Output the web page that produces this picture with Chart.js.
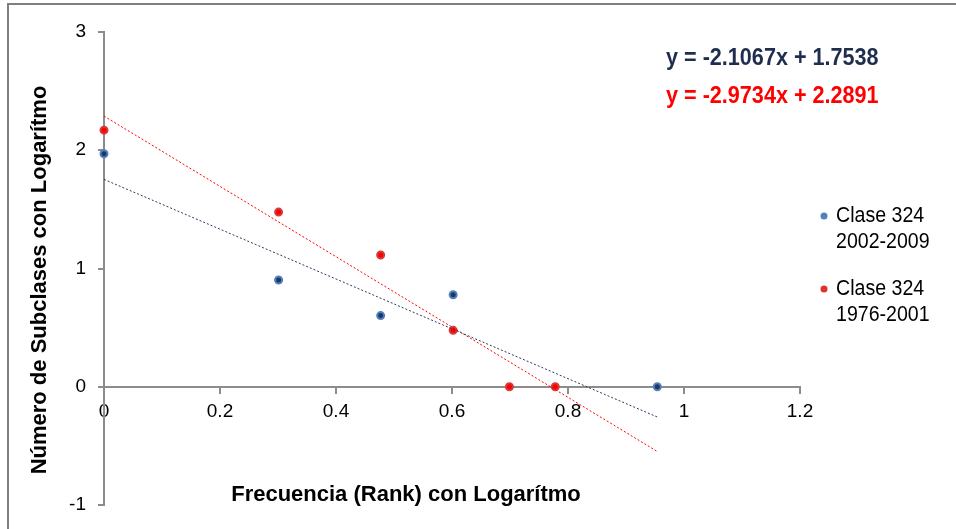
<!DOCTYPE html>
<html>
<head>
<meta charset="utf-8">
<script src="https://cdn.jsdelivr.net/npm/chart.js@4.4.1/dist/chart.umd.min.js"></script>
<style>
  html, body { margin: 0; padding: 0; background: #fff; }
  #wrap { position: relative; width: 956px; height: 529px; }
</style>
</head>
<body>
<div id="wrap"><canvas id="chart" width="956" height="529"></canvas></div>
<script>
// log-log rank data, Clase 324
var seriesNames = [["Clase 324", "2002-2009"], ["Clase 324", "1976-2001"]];

var recentX = [0, 0.301, 0.477, 0.602, 0.954];
var recentY = [1.97, 0.903, 0.602, 0.778, 0];

var olderX = [0, 0.301, 0.477, 0.602, 0.699, 0.778];
var olderY = [2.17, 1.477, 1.114, 0.477, 0, 0];

// linear trendlines (slope, intercept) as printed on the chart
var trendSlopes = [-2.1067, -2.9734];
var trendIntercepts = [1.7538, 2.2891];
var trendRange = [0, 0.954];

var xTicks = [0, 0.2, 0.4, 0.6, 0.8, 1, 1.2];
var yTicks = [-1, 0, 1, 2, 3];

var FONT = "'Liberation Sans', Arial, sans-serif";
var AXIS_GREY = "#8c8c8c";

function pts(xs, ys) {
  return xs.map(function (x, i) { return { x: x, y: ys[i] }; });
}

function trend(i) {
  return trendRange.map(function (x) {
    return { x: x, y: trendSlopes[i] * x + trendIntercepts[i] };
  });
}

// no narrow font installed, so squeeze text horizontally
function narrowText(ctx, text, x, y, sx) {
  ctx.save();
  ctx.translate(x, y);
  ctx.scale(sx, 1);
  ctx.fillText(text, 0, 0);
  ctx.restore();
}

var overlay = {
  id: "overlay",
  afterDraw: function (chart) {
    var ctx = chart.ctx;
    ctx.save();

    // outer frame (top + left only, as in the source)
    ctx.fillStyle = "#7f7f7f";
    ctx.fillRect(7, 3, 949, 2);
    ctx.fillRect(7, 3, 2, 526);

    // equations
    ctx.font = "bold 24px " + FONT;
    ctx.textBaseline = "middle";
    ctx.textAlign = "left";
    ctx.fillStyle = "#1f2d4e";
    narrowText(ctx, "y = -2.1067x + 1.7538", 666, 58, 0.9);
    ctx.fillStyle = "#ff0000";
    narrowText(ctx, "y = -2.9734x + 2.2891", 666, 96, 0.9);

    // axis titles
    ctx.fillStyle = "#000";
    ctx.font = "bold 22px " + FONT;
    ctx.textAlign = "center";
    ctx.fillText("Frecuencia (Rank) con Logarítmo", 406, 495);
    ctx.save();
    ctx.translate(40, 280);
    ctx.rotate(-Math.PI / 2);
    ctx.fillText("Número de Subclases con Logarítmo", 0, 0);
    ctx.restore();

    // legend
    var legendDots = ["#4f81bd", "#e03030"];
    var legendY = [216, 289];
    ctx.font = "22px " + FONT;
    ctx.textAlign = "left";
    for (var i = 0; i < 2; i++) {
      ctx.beginPath();
      ctx.arc(824, legendY[i], 3.5, 0, Math.PI * 2);
      ctx.fillStyle = legendDots[i];
      ctx.fill();
      ctx.fillStyle = "#000";
      narrowText(ctx, seriesNames[i][0], 836, legendY[i], 0.89);
      narrowText(ctx, seriesNames[i][1], 836, legendY[i] + 26, 0.89);
    }
    ctx.restore();
  }
};

new Chart(document.getElementById("chart"), {
  type: "scatter",
  data: {
    datasets: [
      {
        label: "trend recent",
        type: "line",
        data: trend(0),
        borderColor: "#2a3a5c",
        borderWidth: 1,
        borderDash: [2, 2],
        pointRadius: 0,
        fill: false,
        clip: false
      },
      {
        label: "trend older",
        type: "line",
        data: trend(1),
        borderColor: "#ff0000",
        borderWidth: 1,
        borderDash: [2, 2],
        pointRadius: 0,
        fill: false,
        clip: false
      },
      {
        label: seriesNames[0].join(" "),
        data: pts(recentX, recentY),
        pointRadius: 3.5,
        pointBackgroundColor: "#1f3864",
        pointBorderColor: "#4f81bd",
        pointBorderWidth: 2,
        clip: false
      },
      {
        label: seriesNames[1].join(" "),
        data: pts(olderX, olderY),
        pointRadius: 3.5,
        pointBackgroundColor: "#ff0000",
        pointBorderColor: "#d63a3a",
        pointBorderWidth: 2,
        clip: false
      }
    ]
  },
  options: {
    responsive: false,
    animation: false,
    layout: { padding: { left: 44, right: 156, top: 32, bottom: 24 } },
    plugins: {
      legend: { display: false },
      tooltip: { enabled: false }
    },
    scales: {
      x: {
        type: "linear",
        position: { y: 0 },
        min: 0,
        max: 1.2,
        afterBuildTicks: function (scale) {
          scale.ticks = xTicks.map(function (v) { return { value: v }; });
        },
        grid: { display: true, drawOnChartArea: false, drawTicks: true, tickLength: 6, color: AXIS_GREY, lineWidth: 2 },
        border: { display: true, color: AXIS_GREY, width: 2 },
        ticks: {
          color: "#000",
          padding: 8,
          maxRotation: 0,
          font: { family: FONT, size: 19 },
          callback: function (v) { return String(v); }
        }
      },
      y: {
        type: "linear",
        position: "left",
        min: -1,
        max: 3,
        afterFit: function (scale) { scale.width = 60; },
        afterBuildTicks: function (scale) {
          scale.ticks = yTicks.map(function (v) { return { value: v }; });
        },
        grid: { display: true, drawOnChartArea: false, drawTicks: true, tickLength: 6, color: AXIS_GREY, lineWidth: 2 },
        border: { display: true, color: AXIS_GREY, width: 2 },
        ticks: {
          color: "#000",
          padding: 12,
          font: { family: FONT, size: 19 },
          callback: function (v) { return String(v); }
        }
      }
    }
  },
  plugins: [overlay]
});
</script>
</body>
</html>
